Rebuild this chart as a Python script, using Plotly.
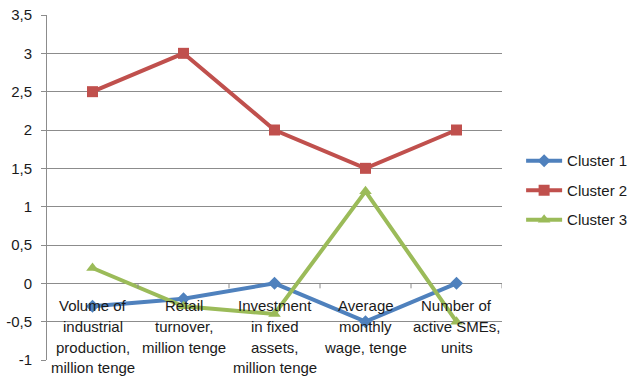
import plotly.graph_objects as go

categories = [
    "Volume of<br>industrial<br>production,<br>million tenge",
    "Retail<br>turnover,<br>million tenge",
    "Investment<br>in fixed<br>assets,<br>million tenge",
    "Average<br>monthly<br>wage, tenge",
    "Number of<br>active SMEs,<br>units",
]
cluster1 = [-0.3, -0.2, 0.0, -0.5, 0.0]
cluster2 = [2.5, 3.0, 2.0, 1.5, 2.0]
cluster3 = [0.2, -0.3, -0.4, 1.2, -0.5]
y_tickvals = [-1, -0.5, 0, 0.5, 1, 1.5, 2, 2.5, 3, 3.5]
y_ticktext = ["-1", "-0,5", "0", "0,5", "1", "1,5", "2", "2,5", "3", "3,5"]

FONT = "Liberation Sans"
FS = 15
TXT = "#1a1a1a"
GRID = "#8c8c8c"

x = list(range(len(categories)))

fig = go.Figure()
series = [
    ("Cluster 1", cluster1, "#4F81BD", "diamond", 10),
    ("Cluster 2", cluster2, "#C0504D", "square", 11),
    ("Cluster 3", cluster3, "#9BBB59", "triangle-up", 11),
]
for name, vals, col, sym, sz in series:
    fig.add_trace(go.Scatter(
        x=x, y=vals, name=name, mode="lines+markers",
        line=dict(color=col, width=4),
        marker=dict(symbol=sym, size=sz, color=col),
        legendgroup=name,
    ))

for i, c in enumerate(categories):
    for k, line in enumerate(c.split("<br>")):
        fig.add_annotation(
            x=i, y=0, xref="x", yref="y", text=line, showarrow=False,
            yanchor="top", xanchor="center", yshift=-12 - 20.7 * k,
            align="center",
            font=dict(family=FONT, size=FS, color=TXT),
        )

for b in [0.5, 1.5, 2.5, 3.5, 4.5]:
    fig.add_shape(type="line", xref="x", yref="y", x0=b, x1=b,
                  ysizemode="pixel", yanchor=0, y0=0, y1=-5,
                  line=dict(color=GRID, width=1))

fig.update_layout(
    width=642, height=385,
    margin=dict(l=47, r=140, t=15, b=25, autoexpand=False),
    paper_bgcolor="white", plot_bgcolor="white",
    font=dict(family=FONT, size=FS, color=TXT),
    showlegend=True,
    legend=dict(x=1.042, y=0.625, xanchor="left", yanchor="top",
                font=dict(family=FONT, size=FS, color=TXT),
                tracegroupgap=7, traceorder="grouped", itemwidth=36,
                bgcolor="rgba(0,0,0,0)"),
    xaxis=dict(range=[-0.5, 4.5], showgrid=False, showticklabels=False,
               showline=False, zeroline=False, ticks="", automargin=False),
    yaxis=dict(range=[-1, 3.5], tickvals=y_tickvals, ticktext=y_ticktext,
               showgrid=True, gridcolor=GRID, gridwidth=1,
               zeroline=True, zerolinecolor=GRID, zerolinewidth=1,
               showline=True, linecolor=GRID, linewidth=1,
               ticks="outside", ticklen=5, tickcolor=GRID,
               ticklabelstandoff=6, automargin=False,
               tickfont=dict(family=FONT, size=FS, color=TXT)),
)

fig.write_html("out.html", config={"displayModeBar": False},
               post_script="document.body.style.margin='0';")
